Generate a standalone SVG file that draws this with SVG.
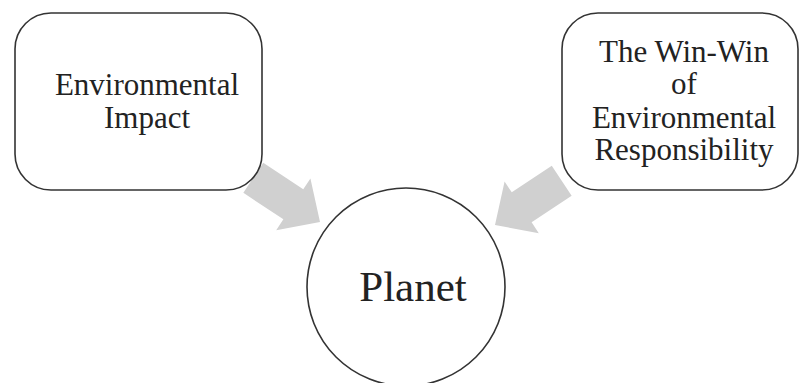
<svg xmlns="http://www.w3.org/2000/svg" width="800" height="383" viewBox="0 0 800 383">
  <style>
    .box { fill: #ffffff; stroke: #333333; stroke-width: 1.6; }
    .arrow { fill: #d0d0d0; stroke: none; }
    .label { font-family: "Liberation Serif", "Times New Roman", serif; font-size: 31px; fill: #222222; text-anchor: middle; }
    .big { font-size: 43px; }
  </style>
  <rect width="800" height="383" fill="#ffffff"/>

  <!-- block arrows, drawn first so the boxes sit on top of their tails -->
  <g id="connectors">
    <!-- left box to circle -->
    <polygon class="arrow" points="-80,-18 -32,-18 -32,-31 0,0 -32,31 -32,18 -80,18" transform="translate(320,222) rotate(33.5)"/>
    <!-- right box to circle -->
    <polygon class="arrow" points="-80,-18 -32,-18 -32,-31 0,0 -32,31 -32,18 -80,18" transform="translate(495,225) rotate(146.5)"/>
  </g>

  <g id="node-impact">
    <rect class="box" x="15" y="13" width="247" height="177" rx="36" ry="36"/>
    <text class="label" x="147" y="95">Environmental</text>
    <text class="label" x="147" y="128">Impact</text>
  </g>

  <g id="node-winwin">
    <rect class="box" x="562" y="13" width="236" height="177" rx="36" ry="36"/>
    <text class="label" x="684" y="62">The Win-Win</text>
    <text class="label" x="684" y="94">of</text>
    <text class="label" x="684" y="128">Environmental</text>
    <text class="label" x="684" y="160">Responsibility</text>
  </g>

  <g id="node-planet">
    <circle class="box" cx="406" cy="287" r="99"/>
    <text class="label big" x="413" y="301">Planet</text>
  </g>
</svg>
